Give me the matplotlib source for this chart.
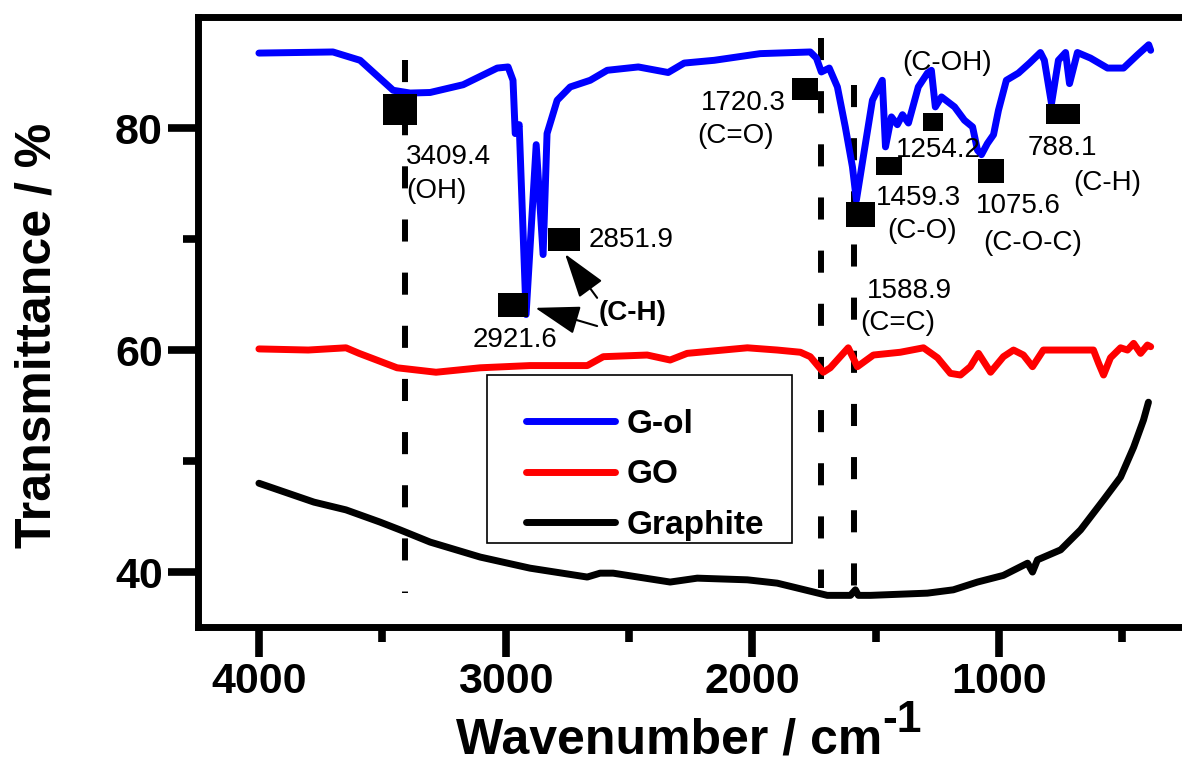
import matplotlib
matplotlib.use('Agg')
import matplotlib.pyplot as plt
from matplotlib.patches import Rectangle

plt.rcParams['font.family'] = ['Liberation Sans', 'DejaVu Sans']

# FTIR spectra: wavenumber (cm-1) and transmittance (%)
gol_wn = [4000, 3850, 3700, 3590, 3456, 3387, 3306, 3172, 3034, 2990, 2970, 2961,
          2945, 2917, 2876, 2848, 2832, 2791, 2738, 2657, 2588, 2462, 2341, 2276,
          2154, 1968, 1765, 1740, 1720, 1688, 1655, 1623, 1594, 1578, 1550, 1513,
          1473, 1460, 1436, 1412, 1391, 1367, 1327, 1290, 1274, 1258, 1233, 1180,
          1140, 1107, 1087, 1071, 1047, 1022, 1002, 970, 921, 876, 832, 816, 787,
          759, 730, 714, 682, 629, 560, 495, 438, 393, 385]
gol_t = [86.75, 86.8, 86.85, 86.1, 83.4, 83.15, 83.2, 83.9, 85.4, 85.5, 84.3, 79.5,
         80.3, 63.2, 78.5, 68.6, 79.5, 82.5, 83.7, 84.3, 85.2, 85.5, 85.0, 85.85,
         86.1, 86.7, 86.85, 86.3, 85.05, 85.4, 83.7, 80.1, 76.5, 73.5, 77.4, 82.5,
         84.3, 78.3, 81.0, 80.3, 81.2, 80.45, 83.7, 84.95, 85.2, 81.9, 82.8, 81.9,
         80.7, 80.1, 78.0, 77.6, 78.6, 79.4, 81.6, 84.3, 84.95, 85.85, 86.8, 86.1, 82.2,
         86.1, 86.8, 84.0, 86.8, 86.3, 85.4, 85.4, 86.6, 87.5, 87.0]

go_wn = [4000, 3800, 3647, 3594, 3440, 3282, 3103, 2901, 2669, 2604, 2426, 2333,
         2264, 2020, 1899, 1805, 1765, 1712, 1684, 1611, 1574, 1509, 1400, 1306,
         1249, 1197, 1156, 1116, 1083, 1034, 982, 941, 901, 864, 820, 617, 596,
         576, 548, 507, 479, 454, 426, 398, 385]
go_t = [60.1, 60.0, 60.2, 59.7, 58.4, 58.0, 58.4, 58.6, 58.6, 59.4, 59.55, 59.1,
        59.7, 60.2, 60.0, 59.8, 59.4, 58.0, 58.4, 60.2, 58.5, 59.55, 59.8, 60.2,
        59.3, 57.9, 57.75, 58.5, 59.7, 58.0, 59.4, 60.0, 59.55, 58.5, 60.0, 60.0, 58.8,
        57.75, 59.3, 60.2, 60.0, 60.6, 59.7, 60.45, 60.3]

graphite_wn = [4000, 3777, 3647, 3509, 3428, 3306, 3103, 2901, 2669, 2617, 2564,
               2333, 2223, 2020, 1899, 1834, 1696, 1602, 1582, 1570, 1521, 1290,
               1185, 1087, 982, 884, 864, 844, 750, 669, 576, 507, 454, 414, 394]
graphite_t = [48.0, 46.3, 45.6, 44.5, 43.8, 42.7, 41.35, 40.35, 39.55, 39.9, 39.9,
              39.1, 39.45, 39.3, 39.0, 38.65, 37.9, 37.9, 38.4, 37.9, 37.9, 38.1,
              38.4, 39.1, 39.7, 40.8, 40.0, 41.1, 42.0, 43.8, 46.5, 48.55, 51.25, 53.7, 55.3]

# dashed guide lines at the assigned bands (top and bottom ends)
band_wn = [3409.4, 1720.3, 1588.9]
band_top = [86.1, 88.1, 83.9]
band_bottom = [38.1, 38.6, 36.0]

# square flags beside the peaks
flag_wn = [3428, 2970, 2763, 1785, 1562, 1444, 1266, 1034, 742]
flag_t = [81.75, 64.05, 70.0, 83.5, 72.25, 76.6, 80.55, 76.1, 81.25]
flag_w = [34, 30, 32, 27, 29, 26, 20, 26, 34]
flag_h = [31, 24, 23, 22, 25, 18, 18, 24, 20]

# peak positions and assignments (text, wavenumber of left edge, baseline)
note_text = ['3409.4', '(OH)', '2921.6', '2851.9', '1720.3', '(C=O)', '(C-OH)',
             '1254.2', '1459.3', '(C-O)', '1588.9', '(C=C)', '1075.6', '(C-O-C)',
             '788.1', '(C-H)']
note_wn = [3403.7, 3403.7, 3131.8, 2665.3, 2206.9, 2223.1, 1391.5, 1419.9, 1497.0,
           1452.3, 1537.5, 1561.9, 1095.3, 1062.9, 884.4, 697.8]
note_t = [76.76, 73.69, 60.27, 69.28, 81.62, 78.65, 85.23, 77.39, 73.06, 70.09,
          64.68, 61.80, 72.34, 69.01, 77.57, 74.41]

fig = plt.figure(figsize=(11.82, 7.65), dpi=100)
ax = fig.add_axes([198 / 1182, 138 / 765, 984 / 1182, 610 / 765])

l1, = ax.plot(gol_wn, gol_t, color='#0000ff', lw=5, solid_capstyle='round', solid_joinstyle='round')
l2, = ax.plot(go_wn, go_t, color='#ff0000', lw=5, solid_capstyle='round', solid_joinstyle='round')
l3, = ax.plot(graphite_wn, graphite_t, color='black', lw=5, solid_capstyle='round', solid_joinstyle='round')

# drawn top-down so the dash pattern starts at the upper end
for wn, top, bottom in zip(band_wn, band_top, band_bottom):
    ax.plot([wn, wn], [top, bottom], color='black', lw=4.3, dashes=(3.7, 5.2), zorder=1)

for wn, t, w, h in zip(flag_wn, flag_t, flag_w, flag_h):
    box = [(-w / 2, -h / 2), (w / 2, -h / 2), (w / 2, h / 2), (-w / 2, h / 2), (-w / 2, -h / 2)]
    ax.plot([wn], [t], marker=box, markersize=max(w, h) * 0.72, color='black',
            markeredgewidth=0, zorder=4)

for s, wn, t in zip(note_text, note_wn, note_t):
    ax.text(wn, t, s, fontsize=20, ha='left', va='baseline', zorder=5)

# the two C-H stretches share one bold label
ax.text(2624.7, 62.70, '(C-H)', fontsize=20, fontweight='bold', ha='left', va='baseline')
arrow = dict(arrowstyle='-|>,head_length=1.4,head_width=0.45', mutation_scale=20,
             color='black', lw=1.5, shrinkA=0, shrinkB=0)
ax.annotate('', xy=(2880, 63.8), xytext=(2629, 62.16), arrowprops=arrow)
ax.annotate('', xy=(2759, 68.65), xytext=(2629, 64.7), arrowprops=arrow)

ax.set_xlim(4247, 258)
ax.set_ylim(35.05, 90.0)
ax.set_xticks([4000, 3000, 2000, 1000])
ax.set_xticks([3500, 2500, 1500, 500], minor=True)
ax.set_yticks([40, 60, 80])
ax.set_yticks([50, 70], minor=True)
ax.tick_params(which='major', direction='out', length=21.6, width=5.5, labelsize=31, pad=3.6)
ax.tick_params(which='minor', direction='out', length=10.8, width=5.5)
for lbl in ax.get_xticklabels() + ax.get_yticklabels():
    lbl.set_fontweight('bold')

for side in ['left', 'top', 'bottom']:
    ax.spines[side].set_linewidth(5)
ax.spines['right'].set_visible(False)

ax.set_xlabel('Wavenumber / cm', fontsize=36, fontweight='bold')
ax.xaxis.set_label_coords(0.479, -0.149)
ax.annotate('-1', xy=(1, 1), xycoords=ax.xaxis.label, xytext=(0, 13),
            textcoords='offset points', ha='left', va='top', fontsize=32, fontweight='bold')
ax.set_ylabel('Transmittance / %', fontsize=36, fontweight='bold')
ax.yaxis.set_label_coords(-0.140, 0.4787)

ax.legend([l1, l2, l3], ['G-ol', 'GO', 'Graphite'], loc='upper left',
          bbox_to_anchor=(0.3333, 0.3574), frameon=False, borderpad=0, borderaxespad=0,
          handlelength=2.67, handletextpad=0.36, labelspacing=0.58,
          prop={'weight': 'bold', 'size': 24})
ax.add_patch(Rectangle((0.2937, 0.1377), 0.31, 0.2754, transform=ax.transAxes,
                       fill=False, ec='black', lw=1.2, zorder=6))

fig.savefig('out.png', dpi=100)
